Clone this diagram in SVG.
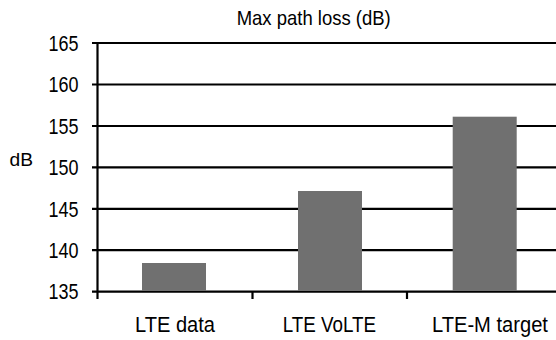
<svg xmlns="http://www.w3.org/2000/svg" width="556" height="340" viewBox="0 0 556 340">
<style>
text { font-family: "Liberation Sans", Arial, sans-serif; fill: #000; }
.tick { font-size: 21.5px; }
.cat { font-size: 22px; }
.grid { stroke: #000; stroke-width: 2.2; fill: none; }
.bar { fill: #707070; }
</style>
<rect width="556" height="340" fill="#fff"/>
<text x="236.7" y="25" font-size="21" textLength="154" lengthAdjust="spacingAndGlyphs">Max path loss (dB)</text>
<text x="9.5" y="165.5" font-size="19" textLength="23.5" lengthAdjust="spacingAndGlyphs">dB</text>
<g id="grid">
<path class="grid" d="M92 43H556M92 84.5H556M92 126H556M92 167.4H556M92 208.8H556M92 250.2H556M92 291.7H556M97.5 43V299M252.5 291.7V299M407 291.7V299"/>
</g>
<g id="ticks">
<text class="tick" x="48.5" y="50.7" textLength="30" lengthAdjust="spacingAndGlyphs">165</text>
<text class="tick" x="48.5" y="92.2" textLength="30" lengthAdjust="spacingAndGlyphs">160</text>
<text class="tick" x="48.5" y="133.7" textLength="30" lengthAdjust="spacingAndGlyphs">155</text>
<text class="tick" x="48.5" y="175.1" textLength="30" lengthAdjust="spacingAndGlyphs">150</text>
<text class="tick" x="48.5" y="216.5" textLength="30" lengthAdjust="spacingAndGlyphs">145</text>
<text class="tick" x="48.5" y="257.9" textLength="30" lengthAdjust="spacingAndGlyphs">140</text>
<text class="tick" x="48.5" y="299.4" textLength="30" lengthAdjust="spacingAndGlyphs">135</text>
</g>
<g id="bar-lte-data"><rect class="bar" x="142" y="263" width="64" height="28"/><text class="cat" x="135" y="332" textLength="80" lengthAdjust="spacingAndGlyphs">LTE data</text></g>
<g id="bar-lte-volte"><rect class="bar" x="298" y="191" width="64" height="100"/><text class="cat" x="282.7" y="332" textLength="93.3" lengthAdjust="spacingAndGlyphs">LTE VoLTE</text></g>
<g id="bar-lte-m"><rect class="bar" x="452.7" y="116.7" width="64" height="174.3"/><text class="cat" transform="translate(432 332) scale(0.915 1)">LTE-M target</text></g>
</svg>
